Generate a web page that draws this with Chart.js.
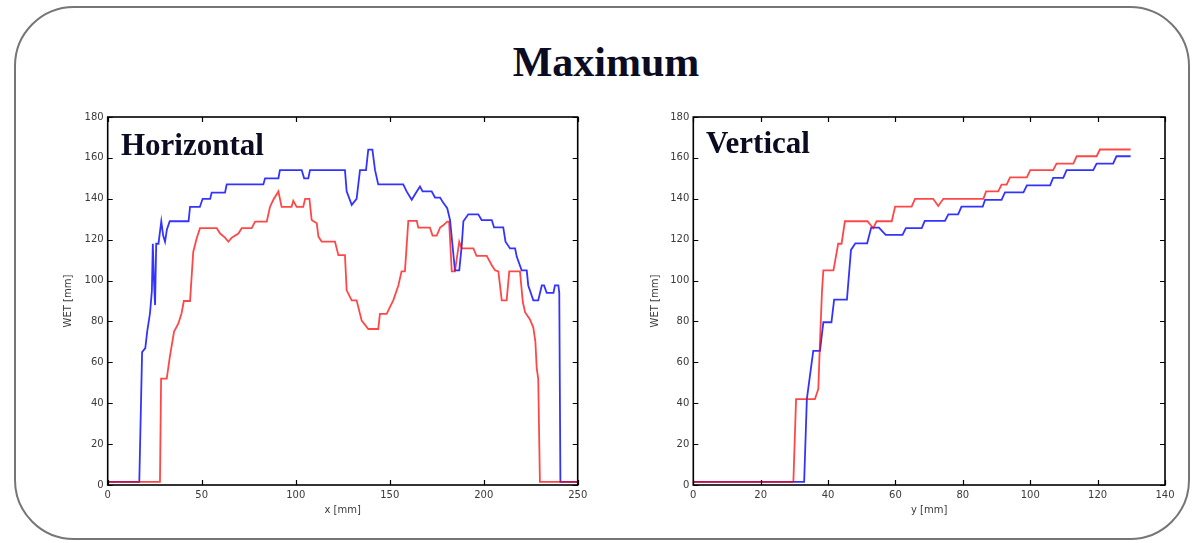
<!DOCTYPE html>
<html>
<head>
<meta charset="utf-8">
<script src="https://cdn.jsdelivr.net/npm/chart.js@4.4.1/dist/chart.umd.min.js"></script>
<style>
  html, body { margin: 0; padding: 0; background: #fff; }
  body { width: 1198px; height: 543px; position: relative; overflow: hidden; }
  #frame { position: absolute; left: 14px; top: 6px; width: 1176px; height: 534px; box-sizing: border-box;
           border: 2px solid #767676; border-radius: 60px; }
  .ttl { position: absolute; font-family: "Liberation Serif", "Times New Roman", serif; font-weight: bold; color: #0b0b22; white-space: nowrap; }
  #main { left: 0; width: 1212px; text-align: center; top: 41px; font-size: 42px; line-height: 42px; }
  #hlab { left: 121px; top: 129px; font-size: 31px; line-height: 31px; }
  #vlab { left: 706px; top: 127px; font-size: 31px; line-height: 31px; }
  canvas { position: absolute; }
  #c1 { left: 50px; top: 100px; }
  #c2 { left: 636px; top: 100px; }
</style>
</head>
<body>
<div id="frame"></div>
<canvas id="c1" width="560" height="430"></canvas>
<canvas id="c2" width="560" height="430"></canvas>
<div class="ttl" id="main">Maximum</div>
<div class="ttl" id="hlab">Horizontal</div>
<div class="ttl" id="vlab">Vertical</div>
<script>
// ---- Data: Horizontal profile (x [mm] vs WET [mm]) ----
const hBlueX = [0,16.8,18.3,20,21,22.5,23.5,24,24.6,25.2,25.8,27,28.5,29.5,30.5,31.5,33,43,43.8,49,50.5,54.5,55.3,62.4,63.3,82.8,83.7,90.8,91.6,103.2,104.5,106.7,107.6,126.2,127.1,129.8,132.4,134.2,137.4,138.6,140.8,142.2,143.9,157.2,159,161.7,164.4,166.1,167.5,172.3,174.1,176.8,178.5,180.6,182.1,184.7,187,188.3,189.2,191.8,197.1,198.9,204.3,205.5,210.4,211.6,214,216.7,217.6,220.2,222.9,223.7,226.4,229,230.9,232.1,233.5,237.1,237.9,239.7,240.2,240.8,250];
const hBlueV = [1.5,1.5,65,67,75,84,95,118,100,88,118,118,129,122,119,125,129,129,136,136,140,140,143,143,147,147,150,150,154,154,150,150,154,154,143.6,137,140,154,154,164,164,154,147,147,143.6,139.5,143.6,146,143.6,143.6,140.6,140.6,138,135.4,129.6,105,105,117,129,132.4,132.4,129.6,129.6,126,126,119,115.7,115.7,111.6,105,105,97.6,90.3,90.3,97.6,97.6,94,94,97.6,97.6,94,1.5,1.5];
const hRedX = [0,27.8,28.4,31.4,33.1,35.3,37.6,39.3,40.5,43.8,45.5,47.3,49.1,58,59.8,62.4,64.2,66,69.5,71.3,76.6,78.4,84.6,86.3,88.1,90.8,92.5,97.8,98.7,100.5,104,105,107.3,108.5,111.2,112.1,113.8,120.9,122.7,126.2,127.1,129.8,132.4,135.1,138.6,143.9,144.8,148.4,150.1,151.9,154.6,156.3,158.1,159.9,164.4,165.2,171.4,172.8,175,176.8,178.5,180.6,181.6,183,184.7,187,188.3,194.5,196.2,201.6,204.3,206,207.8,209.6,212.2,213.6,219.3,220.8,222,224.6,226.4,227.5,228.2,229,229.9,250];
const hRedV = [1.5,1.5,52,52,63,75,79,84,90,90,114,120.6,125.6,125.6,123,121,119,121,123,125.6,125.6,128.8,128.8,136,139.5,143.6,136,136,139,136,136,140,140,129.6,128,121.5,119,119,112.4,112.4,95.2,90.3,90.3,80.4,76.3,76.3,83.7,83.7,87,90.3,97.6,104.5,104.5,129.2,129.2,125.9,125.9,122,122,125.9,127,128.8,128.8,104.5,104.5,119,115.7,115.7,112.1,112.1,107.5,105,104.5,90.3,90.3,104.5,104.5,89.5,84.5,81,77,70,57,52,1.5,1.5];

// ---- Data: Vertical profile (y [mm] vs WET [mm]) ----
const vBlueX = [0,32.9,33.7,35.6,37.6,38.6,41,41.8,45.6,46.8,48.1,51.6,52.8,55.1,57.1,62.1,63.1,67.8,68.7,74.7,75.7,78.6,79.6,85.9,86.6,91.5,92.5,98,99,105.9,106.8,109.8,110.8,118.7,119.7,124.6,125.6,129.8];
const vBlueV = [1.5,1.5,42,65.6,65.6,79.6,79.6,90.7,90.7,115,118.2,118.2,125.9,125.9,122.3,122.3,125.6,125.6,129.2,129.2,132.4,132.4,136.2,136.2,139.5,139.5,143.1,143.1,146.6,146.6,150.2,150.2,154,154,157.2,157.2,160.8,160.8];
const vRedX = [0,29.7,30.5,36.1,37.1,37.6,38.2,38.6,41.6,43,44,45,51.7,53.4,54.4,58.9,59.9,64.8,65.8,71.2,72.7,74.2,86.1,86.9,90.5,91.5,93,94,99,100,106.8,107.8,112.8,113.8,119.7,120.7,129.8];
const vRedV = [1.5,1.5,42,42,47,70,95,105,105,118,118,129,129,125.6,129,129,136.2,136.2,140,140,136.5,140,140,143.6,143.6,146.9,146.9,150.5,150.5,154,154,157.2,157.2,160.8,160.8,164.1,164.1];

// ---- Axis tick labels ----
const hXTicks = [0, 50, 100, 150, 200, 250];
const vXTicks = [0, 20, 40, 60, 80, 100, 120, 140];
const wetTicks = [0, 20, 40, 60, 80, 100, 120, 140, 160, 180];

const pts = (xs, vs) => xs.map((x, i) => ({ x: x, y: vs[i] }));

const frameTicks = {
  id: 'frameTicks',
  afterDatasetsDraw(chart) {
    const { ctx, chartArea: a, scales: { x, y } } = chart;
    ctx.save();
    ctx.strokeStyle = '#000';
    ctx.lineWidth = 1.2;
    ctx.beginPath();
    x.ticks.forEach(t => {
      const px = Math.round(x.getPixelForValue(t.value)) + 0.5;
      ctx.moveTo(px, a.bottom); ctx.lineTo(px, a.bottom - 5);
      ctx.moveTo(px, a.top); ctx.lineTo(px, a.top + 5);
    });
    y.ticks.forEach(t => {
      const py = Math.round(y.getPixelForValue(t.value)) + 0.5;
      ctx.moveTo(a.left, py); ctx.lineTo(a.left + 5, py);
      ctx.moveTo(a.right, py); ctx.lineTo(a.right - 5, py);
    });
    ctx.stroke();
    ctx.lineWidth = 1.6;
    ctx.strokeRect(a.left, a.top, a.right - a.left, a.bottom - a.top);
    ctx.restore();
  }
};

function makeChart(id, blue, red, xMax, xTicks, xTitle, yAxisWidth, padRight, yTitlePad) {
  const tickFont = { family: 'DejaVu Sans', size: 10 };
  return new Chart(document.getElementById(id), {
    type: 'line',
    data: {
      datasets: [
        { data: red, borderColor: 'rgba(255,0,0,0.72)', borderWidth: 1.8, pointRadius: 0, tension: 0, fill: false },
        { data: blue, borderColor: 'rgba(0,0,255,0.8)', borderWidth: 1.8, pointRadius: 0, tension: 0, fill: false }
      ]
    },
    options: {
      responsive: false,
      animation: false,
      events: [],
      layout: { padding: { top: 17, right: padRight, left: 0, bottom: 0 } },
      plugins: { legend: { display: false }, tooltip: { enabled: false } },
      scales: {
        x: {
          type: 'linear', min: 0, max: xMax,
          afterBuildTicks: s => { s.ticks = xTicks.map(v => ({ value: v })); },
          afterFit: s => { s.height = 45; },
          grid: { display: false, drawTicks: false },
          border: { display: false },
          ticks: { font: tickFont, color: '#3a3a3a', padding: 4, maxRotation: 0, autoSkip: false },
          title: { display: true, text: xTitle, font: tickFont, color: '#3a3a3a', padding: { top: 0, bottom: 14 } }
        },
        y: {
          type: 'linear', min: 0, max: 180,
          afterBuildTicks: s => { s.ticks = wetTicks.map(v => ({ value: v })); },
          afterFit: s => { s.width = yAxisWidth; },
          grid: { display: false, drawTicks: false },
          border: { display: false },
          ticks: { font: tickFont, color: '#3a3a3a', padding: 4, autoSkip: false },
          title: { display: true, text: 'WET [mm]', font: tickFont, color: '#3a3a3a', padding: { top: yTitlePad, bottom: 0 } }
        }
      }
    },
    plugins: [frameTicks]
  });
}

makeChart('c1', pts(hBlueX, hBlueV), pts(hRedX, hRedV), 250, hXTicks, 'x [mm]', 57.7, 32.3, 12);
makeChart('c2', pts(vBlueX, vBlueV), pts(vRedX, vRedV), 140, vXTicks, 'y [mm]', 57.3, 31, 13);
</script>
</body>
</html>
